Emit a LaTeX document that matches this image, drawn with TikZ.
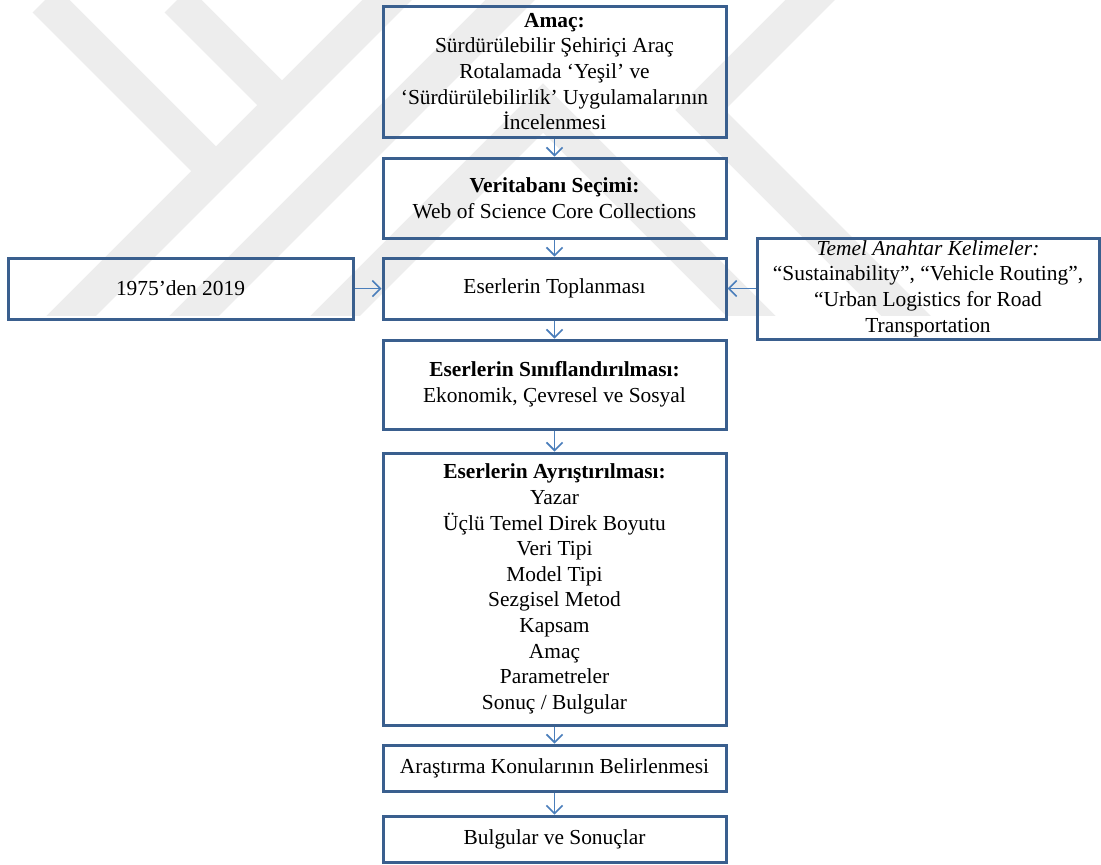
\documentclass[tikz,border=0pt]{standalone}
\usepackage{fontspec}
\setmainfont{Liberation Serif}
\usetikzlibrary{arrows.meta}
\definecolor{boxline}{HTML}{3A5F8E}
\definecolor{arrowline}{HTML}{4A7EBB}
\definecolor{markgray}{HTML}{EDEDED}
\begin{document}
\begin{tikzpicture}[x=0.5pt,y=-0.5pt,
  stepbox/.style={draw=boxline, line width=1.5pt, align=center, inner sep=0pt,
    minimum width=171.5pt, font=\fontsize{10.7}{12.8}\selectfont},
  flow/.style={draw=arrowline, line width=0.8pt, -{Straight Barb[length=4pt,width=8pt]}},
  band/.style={draw=markgray, line width=17.5pt, line join=miter}]
\useasboundingbox (0,0) rectangle (1101,864);
\fill[white] (0,0) rectangle (1101,864);

% faint chevron pattern behind the upper part
\begin{scope}
  \clip (0,0) rectangle (1101,315);
  \draw[band] (45,0) -- (216,171);
  \draw[band] (177,0) -- (282,105);
  \draw[band] (-20,407) -- (407,-20);
  \draw[band] (-20,530) -- (530,-20);
  \draw[band] (300,351) -- (543,108) -- (790,355);
  \draw[band] (830,-20) -- (700,110) -- (920,330);
\end{scope}

% main column
\node[stepbox, minimum height=65.5pt] (amac) at (554.5,71.5)
  {\textbf{Amaç:}\\Sürdürülebilir Şehiriçi Araç\\Rotalamada ‘Yeşil’ ve\\‘Sürdürülebilirlik’ Uygulamalarının\\İncelenmesi};
\node[stepbox, minimum height=40pt] (veri) at (554.5,198)
  {\textbf{Veritabanı Seçimi:}\\Web of Science Core Collections};
\node[stepbox, minimum height=30.5pt] (topla) at (554.5,288.5)
  {Eserlerin Toplanması};
\node[stepbox, minimum height=44.5pt] (sinif) at (554.5,384.5)
  {\textbf{Eserlerin Sınıflandırılması:}\\Ekonomik, Çevresel ve Sosyal};
\node[stepbox, minimum height=136pt] (ayris) at (554.5,589)
  {\textbf{Eserlerin Ayrıştırılması:}\\Yazar\\Üçlü Temel Direk Boyutu\\Veri Tipi\\Model Tipi\\Sezgisel Metod\\Kapsam\\Amaç\\Parametreler\\Sonuç / Bulgular};
\node[stepbox, minimum height=23pt] (arast) at (554.5,768)
  {Araştırma Konularının Belirlenmesi};
\node[stepbox, minimum height=23pt] (bulg) at (554.5,839)
  {Bulgular ve Sonuçlar};

% side inputs
\node[stepbox, minimum width=172.5pt, minimum height=30.5pt] (yil) at (180.5,288.5)
  {1975’den 2019};
\node[stepbox, minimum width=171pt, minimum height=50.5pt] (anahtar) at (928,288.5)
  {\textit{Temel Anahtar Kelimeler:}\\“Sustainability”, “Vehicle Routing”,\\“Urban Logistics for Road\\Transportation};

% connectors
\draw[flow] (amac) -- (veri);
\draw[flow] (veri) -- (topla);
\draw[flow] (topla) -- (sinif);
\draw[flow] (sinif) -- (ayris);
\draw[flow] (ayris) -- (arast);
\draw[flow] (arast) -- (bulg);
\draw[flow] (yil) -- (topla);
\draw[flow] (anahtar) -- (topla);
\end{tikzpicture}
\end{document}
